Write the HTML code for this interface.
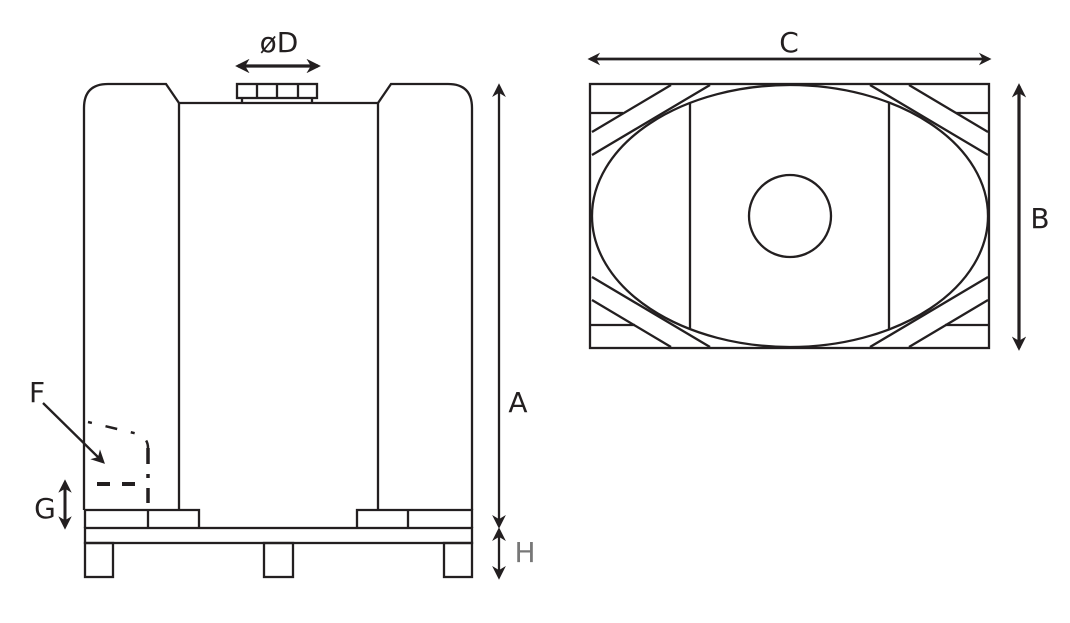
<!DOCTYPE html>
<html><head><style>html,body{margin:0;padding:0;background:#fff;width:1070px;height:623px;overflow:hidden}</style></head>
<body>
<svg width="1070" height="623" viewBox="0 0 1070 623" xmlns="http://www.w3.org/2000/svg">
<defs>
<marker id="ah" viewBox="0 0 10 10" refX="8" refY="5" markerWidth="4.5" markerHeight="4.5" orient="auto-start-reverse"><path d="M0,0 L10,5 L0,10 L3,5 Z" fill="#231f20"/></marker>
<marker id="ah2" viewBox="0 0 10 10" refX="8" refY="5" markerWidth="6" markerHeight="6" orient="auto-start-reverse"><path d="M0,0 L10,5 L0,10 L3,5 Z" fill="#231f20"/></marker>
</defs>
<g fill="none" stroke="#231f20" stroke-width="2.3">
<path d="M84,510 L84,108 Q84,84 108,84 L166,84 L179,103 L378,103 L391,84 L448,84 Q472,84 472,108 L472,510"/>
<line x1="179" y1="103" x2="179" y2="510"/>
<line x1="378" y1="103" x2="378" y2="510"/>
<rect x="237" y="84" width="80" height="14"/>
<line x1="257" y1="84" x2="257" y2="98"/><line x1="277" y1="84" x2="277" y2="98"/><line x1="298" y1="84" x2="298" y2="98"/>
<line x1="242" y1="98" x2="242" y2="103"/><line x1="312" y1="98" x2="312" y2="103"/>
<path d="M85,528 L85,510 L199,510 L199,528"/><line x1="148" y1="510" x2="148" y2="528"/>
<path d="M357,528 L357,510 L472,510 L472,528"/><line x1="408" y1="510" x2="408" y2="528"/>
<rect x="85" y="528" width="387" height="15"/>
<rect x="85" y="543" width="28" height="34"/>
<rect x="264" y="543" width="29" height="34"/>
<rect x="444" y="543" width="28" height="34"/>
<line x1="97" y1="484" x2="135" y2="484" stroke-width="4" stroke-dasharray="13,12"/>
<line x1="148" y1="448" x2="148" y2="503" stroke-width="3.5" stroke-dasharray="16,10,4,10"/>
<path d="M88,422 L138,434 Q148,438 148,448" stroke-width="2.5" stroke-dasharray="4,14,12,14"/>
<line x1="43" y1="403" x2="103" y2="462" marker-end="url(#ah2)"/>
<line x1="65" y1="482" x2="65" y2="527" stroke-width="3" marker-start="url(#ah)" marker-end="url(#ah)"/>
<line x1="499" y1="86" x2="499" y2="526" marker-start="url(#ah2)" marker-end="url(#ah2)"/>
<line x1="499" y1="530" x2="499" y2="577" marker-start="url(#ah2)" marker-end="url(#ah2)"/>
<line x1="238" y1="66" x2="318" y2="66" stroke-width="3.2" marker-start="url(#ah)" marker-end="url(#ah)"/>
<line x1="590" y1="59" x2="989" y2="59" stroke-width="2.8" marker-start="url(#ah)" marker-end="url(#ah)"/>
<line x1="1019" y1="86" x2="1019" y2="348" stroke-width="3.2" marker-start="url(#ah)" marker-end="url(#ah)"/>
<rect x="590" y="84" width="399" height="264"/>
<ellipse cx="790" cy="216" rx="198" ry="131"/>
<circle cx="790" cy="216" r="41"/>
<line x1="690" y1="103" x2="690" y2="329"/>
<line x1="889" y1="103" x2="889" y2="329"/>
<line x1="590" y1="113" x2="623" y2="113"/><line x1="956" y1="113" x2="989" y2="113"/>
<line x1="590" y1="325" x2="635" y2="325"/><line x1="945" y1="325" x2="989" y2="325"/>
<line x1="592" y1="132" x2="671" y2="85"/><line x1="592" y1="155" x2="710" y2="85"/>
<line x1="988" y1="132" x2="909" y2="85"/><line x1="988" y1="155" x2="870" y2="85"/>
<line x1="592" y1="300" x2="671" y2="347"/><line x1="592" y1="277" x2="710" y2="347"/>
<line x1="988" y1="300" x2="909" y2="347"/><line x1="988" y1="277" x2="870" y2="347"/>
</g>
<g font-family="'DejaVu Sans','Liberation Sans',sans-serif" font-size="28" fill="#231f20">
<text x="279" y="52" text-anchor="middle">øD</text>
<text x="789" y="52" text-anchor="middle">C</text>
<text x="1040" y="228" text-anchor="middle">B</text>
<text x="518" y="412" text-anchor="middle">A</text>
<text x="525" y="562" text-anchor="middle" fill="#777">H</text>
<text x="45" y="518" text-anchor="middle">G</text>
<text x="37" y="402" text-anchor="middle">F</text>
</g>
</svg>
</body></html>
